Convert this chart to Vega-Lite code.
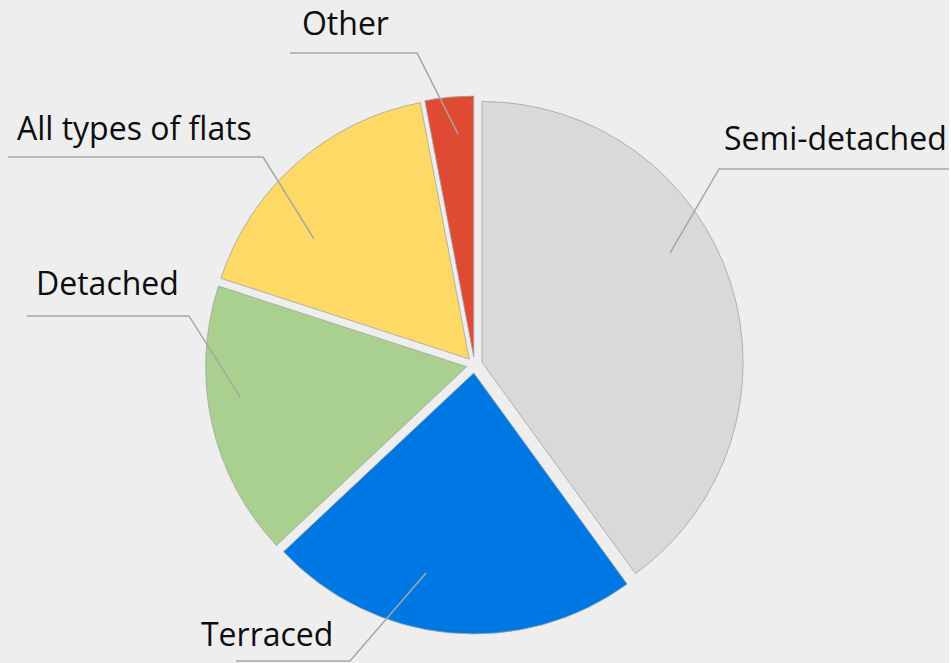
{
  "$schema": "https://vega.github.io/schema/vega-lite/v6.json",
  "width": 949,
  "height": 596,
  "autosize": "none",
  "padding": {"top": 67, "left": 0, "right": 0, "bottom": 0},
  "background": "#eeeeee",
  "config": {"view": {"stroke": null}, "font": "Open Sans"},
  "datasets": {
    "slices": [
      {"type": "Semi-detached", "share": 40},
      {"type": "Terraced", "share": 23},
      {"type": "Detached", "share": 17},
      {"type": "All types of flats", "share": 17},
      {"type": "Other", "share": 3}
    ],
    "leaders": [
      {"type": "Semi-detached", "pt": 1, "u": 0.749, "v": 0.429},
      {"type": "Semi-detached", "pt": 2, "u": 0.937, "v": 0.751},
      {"type": "Semi-detached", "pt": 3, "u": 1.826, "v": 0.751},
      {"type": "Other", "pt": 1, "u": -0.063, "v": 0.885},
      {"type": "Other", "pt": 2, "u": -0.220, "v": 1.195},
      {"type": "Other", "pt": 3, "u": -0.707, "v": 1.195},
      {"type": "All types of flats", "pt": 1, "u": -0.615, "v": 0.483},
      {"type": "All types of flats", "pt": 2, "u": -0.810, "v": 0.797},
      {"type": "All types of flats", "pt": 3, "u": -1.787, "v": 0.797},
      {"type": "Detached", "pt": 1, "u": -0.898, "v": -0.123},
      {"type": "Detached", "pt": 2, "u": -1.094, "v": 0.188},
      {"type": "Detached", "pt": 3, "u": -1.715, "v": 0.188},
      {"type": "Terraced", "pt": 1, "u": -0.186, "v": -0.797},
      {"type": "Terraced", "pt": 2, "u": -0.477, "v": -1.134},
      {"type": "Terraced", "pt": 3, "u": -0.914, "v": -1.134}
    ],
    "labels": [
      {"type": "Semi-detached", "u": 0.956, "v": 0.824},
      {"type": "Other", "u": -0.661, "v": 1.264},
      {"type": "All types of flats", "u": -1.753, "v": 0.862},
      {"type": "Detached", "u": -1.680, "v": 0.268},
      {"type": "Terraced", "u": -1.048, "v": -1.077}
    ]
  },
  "layer": [
    {
      "data": {"name": "slices"},
      "transform": [{"window": [{"op": "row_number", "as": "rank"}]}],
      "mark": {
        "type": "arc",
        "outerRadius": 261,
        "stroke": "#a3a3a3",
        "strokeWidth": 0.8,
        "xOffset": {"expr": "8*sin((scale('theta', datum.share_start)+scale('theta', datum.share_end))/2)"},
        "yOffset": {"expr": "-8*cos((scale('theta', datum.share_start)+scale('theta', datum.share_end))/2)"}
      },
      "encoding": {
        "theta": {"field": "share", "type": "quantitative", "stack": true},
        "order": {"field": "rank", "type": "quantitative"},
        "color": {
          "field": "type",
          "type": "nominal",
          "legend": null,
          "scale": {
            "domain": ["Semi-detached", "Terraced", "Detached", "All types of flats", "Other"],
            "range": ["#d9d9d9", "#0078e4", "#a9d08e", "#ffd966", "#df4a32"]
          }
        }
      }
    },
    {
      "data": {"name": "leaders"},
      "mark": {"type": "line", "color": "#a6a6a6", "strokeWidth": 1.5},
      "encoding": {
        "x": {"field": "u", "type": "quantitative", "axis": null, "scale": {"domain": [-1.81801, 1.81801], "nice": false, "zero": false}},
        "y": {"field": "v", "type": "quantitative", "axis": null, "scale": {"domain": [-1.14176, 1.14176], "nice": false, "zero": false}},
        "detail": {"field": "type"},
        "order": {"field": "pt", "type": "quantitative"}
      }
    },
    {
      "data": {"name": "labels"},
      "mark": {"type": "text", "align": "left", "baseline": "alphabetic", "fontSize": 32, "font": "Open Sans", "color": "#0d0d0d"},
      "encoding": {
        "x": {"field": "u", "type": "quantitative", "axis": null, "scale": {"domain": [-1.81801, 1.81801], "nice": false, "zero": false}},
        "y": {"field": "v", "type": "quantitative", "axis": null, "scale": {"domain": [-1.14176, 1.14176], "nice": false, "zero": false}},
        "text": {"field": "type"}
      }
    }
  ]
}
